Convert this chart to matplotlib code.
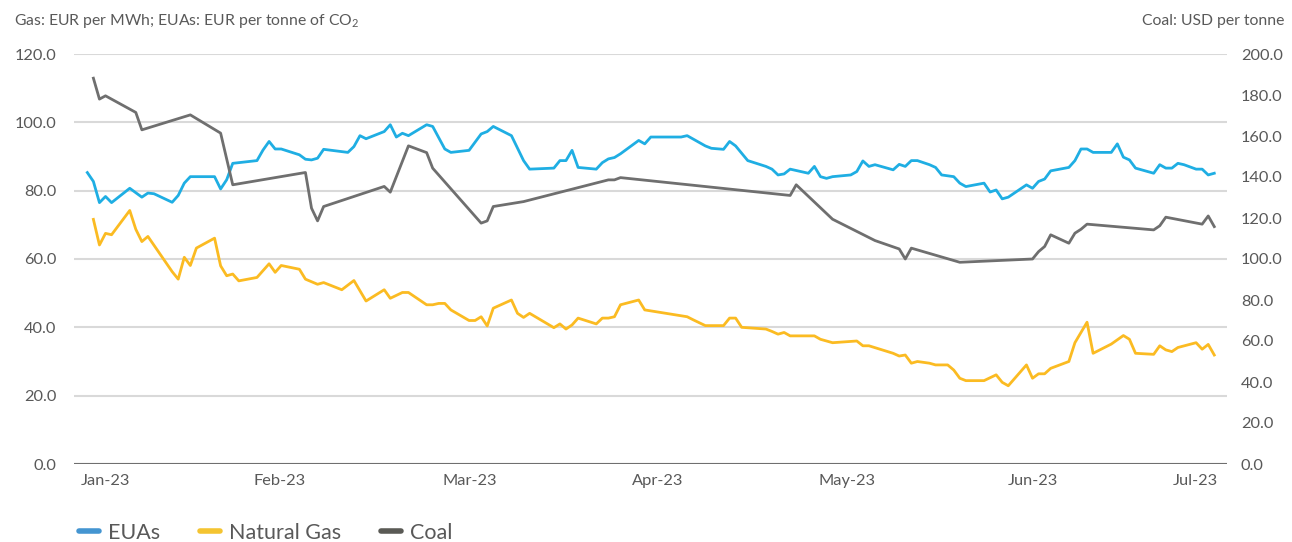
import matplotlib
matplotlib.use("Agg")
import matplotlib.pyplot as plt
from matplotlib.lines import Line2D
import pandas as pd

# ---------------- data (calendar-day offset from 2 Jan 2023, value) ----------------
START = "2023-01-02"

eua_day = [0, 1, 2, 3, 4, 7, 9, 10, 11, 14, 15, 16, 17, 21, 22, 23, 24, 28, 29, 30, 31, 32,
           35, 36, 37, 38, 39, 43, 44, 45, 46, 49, 50, 51, 52, 53, 56, 57, 59, 60, 63, 65, 66,
           67, 70, 72, 73, 77, 78, 79, 80, 81, 84, 85, 86, 87, 88, 91, 92, 93, 98, 99, 102,
           103, 105, 106, 107, 109, 112, 113, 114, 115, 116, 119, 120, 121, 122, 123, 126,
           127, 128, 129, 130, 133, 134, 135, 136, 137, 139, 140, 141, 143, 144, 145, 148,
           149, 150, 151, 152, 155, 156, 157, 158, 159, 162, 163, 164, 165, 166, 169, 170,
           171, 172, 173, 176, 177, 178, 179, 180, 181, 183, 184, 185, 186]
eua_val = [85.3, 82.7, 76.5, 78.3, 76.5, 80.7, 78.1, 79.3, 79.1, 76.6, 78.6, 82.2, 84.1, 84.1,
           80.5, 83.2, 88.0, 88.8, 91.9, 94.4, 92.2, 92.2, 90.5, 89.2, 89.0, 89.5, 92.1, 91.2,
           92.9, 96.1, 95.2, 97.3, 99.3, 95.7, 96.8, 96.1, 99.3, 98.8, 92.2, 91.2, 91.8, 96.6,
           97.3, 98.8, 96.1, 88.8, 86.3, 86.6, 88.8, 88.8, 91.8, 86.8, 86.3, 88.2, 89.3, 89.7,
           90.8, 94.7, 93.7, 95.7, 95.7, 96.1, 93.1, 92.4, 92.1, 94.4, 93.1, 88.8, 87.1, 86.3,
           84.6, 84.9, 86.3, 85.1, 87.1, 84.1, 83.6, 84.1, 84.6, 85.6, 88.7, 87.1, 87.6, 86.1,
           87.7, 87.1, 88.8, 88.8, 87.6, 86.8, 84.6, 84.1, 82.2, 81.2, 82.2, 79.6, 80.2, 77.6,
           78.1, 81.7, 80.7, 82.7, 83.4, 85.8, 86.8, 88.8, 92.2, 92.2, 91.2, 91.2, 93.7, 89.8,
           89.0, 86.6, 85.1, 87.6, 86.6, 86.6, 88.0, 87.6, 86.3, 86.3, 84.6, 85.1]

gas_day = [1, 2, 3, 4, 7, 8, 9, 10, 14, 15, 16, 17, 18, 21, 22, 23, 24, 25, 28, 30, 31, 32,
           35, 36, 38, 39, 42, 44, 46, 49, 50, 52, 53, 56, 57, 58, 59, 60, 63, 64, 65, 66, 67,
           70, 71, 72, 73, 77, 78, 79, 80, 81, 84, 85, 86, 87, 88, 91, 92, 99, 100, 102, 105,
           106, 107, 108, 112, 113, 114, 115, 116, 120, 121, 123, 127, 128, 129, 133, 134,
           135, 136, 137, 139, 140, 142, 143, 144, 145, 148, 150, 151, 152, 155, 156, 157,
           158, 159, 162, 163, 165, 166, 169, 171, 172, 173, 176, 177, 178, 179, 180, 183,
           184, 185, 186]
gas_val = [71.6, 64.1, 67.5, 67.1, 74.2, 68.7, 65.1, 66.6, 56.3, 54.1, 60.5, 58.1, 63.2, 66.1,
           58.0, 55.1, 55.6, 53.6, 54.6, 58.6, 56.1, 58.1, 57.0, 54.1, 52.6, 53.1, 51.0, 53.7,
           47.7, 51.0, 48.5, 50.2, 50.2, 46.6, 46.6, 47.0, 47.0, 45.1, 42.0, 42.0, 43.1, 40.4,
           45.6, 48.0, 44.1, 42.9, 44.1, 39.9, 41.0, 39.5, 40.7, 42.7, 41.0, 42.7, 42.7, 43.1,
           46.6, 48.0, 45.1, 43.1, 42.2, 40.5, 40.5, 42.7, 42.7, 40.0, 39.5, 38.8, 38.0, 38.5,
           37.5, 37.5, 36.5, 35.5, 36.0, 34.6, 34.6, 32.4, 31.6, 31.9, 29.5, 30.0, 29.5, 29.0,
           29.0, 27.5, 25.1, 24.4, 24.4, 26.1, 23.9, 22.9, 29.0, 25.1, 26.4, 26.4, 28.0, 30.0,
           35.5, 41.5, 32.4, 35.1, 37.6, 36.5, 32.4, 32.1, 34.6, 33.4, 32.9, 34.1, 35.5, 33.6,
           35.0, 31.9]

coal_day = [1, 2, 3, 8, 9, 17, 22, 24, 36, 37, 38, 39, 49, 50, 53, 56, 57, 65, 66, 67, 72,
            86, 87, 88, 116, 117, 123, 130, 134, 135, 136, 144, 156, 157, 158, 159, 162, 163,
            164, 165, 176, 177, 178, 184, 185, 186]
coal_val = [188.2, 178.0, 179.6, 171.5, 163.0, 170.3, 161.4, 136.2, 142.2, 124.8, 118.6, 125.6,
            135.4, 132.6, 155.2, 151.9, 144.3, 117.5, 118.6, 125.6, 128.0, 138.6, 138.6, 139.7,
            131.0, 136.2, 119.4, 109.0, 104.9, 100.0, 105.3, 98.4, 100.0, 103.6, 106.1, 111.8,
            107.7, 112.6, 114.5, 117.0, 114.2, 116.2, 120.4, 117.0, 121.0, 115.8]

series_names = ["EUAs", "Natural Gas", "Coal"]
month_labels = ["Jan-23", "Feb-23", "Mar-23", "Apr-23", "May-23", "Jun-23", "Jul-23"]
left_ticks = [0, 20, 40, 60, 80, 100, 120]
right_ticks = [0, 20, 40, 60, 80, 100, 120, 140, 160, 180, 200]

# ---------------- style ----------------
FONT = ["Lato", "DejaVu Sans"]
plt.rcParams["font.family"] = FONT
plt.rcParams["mathtext.fontset"] = "custom"
plt.rcParams["mathtext.rm"] = "Lato"
TXT = "#595959"
C_EUA = "#1FAEE3"
C_GAS = "#FBBB22"
C_COAL = "#6F6F6F"
GRID = "#D9D9D9"

W, H = 1292, 542
fig = plt.figure(figsize=(W / 100, H / 100), dpi=100)
ax = fig.add_axes([74 / W, (H - 464) / H, (1227 - 74) / W, (464 - 54) / H])
ax2 = ax.twinx()

start = pd.Timestamp(START)
to_dates = lambda d: start + pd.to_timedelta(d, unit="D")

ax.plot(to_dates(eua_day), eua_val, color=C_EUA, lw=2.0, solid_joinstyle="round", zorder=3)
ax.plot(to_dates(gas_day), gas_val, color=C_GAS, lw=2.0, solid_joinstyle="round", zorder=3)
ax2.plot(to_dates(coal_day), coal_val, color=C_COAL, lw=2.0, solid_joinstyle="round", zorder=3)

ax.set_ylim(0, 120)
ax2.set_ylim(0, 200)
ax.set_xlim(to_dates(-2.2), to_dates(188.1))

ax.set_yticks(left_ticks)
ax.set_yticklabels([f"{v:.1f}" for v in left_ticks])
ax2.set_yticks(right_ticks)
ax2.set_yticklabels([f"{v:.1f}" for v in right_ticks])

tick_offsets = [3.0, 31.8, 63.1, 94.2, 125.4, 156.1, 182.8]
ax.set_xticks(to_dates(tick_offsets))
ax.set_xticklabels(month_labels)

ax.grid(axis="y", color=GRID, lw=1.5)
ax.set_axisbelow(True)
for a in (ax, ax2):
    for s in ("top", "left", "right", "bottom"):
        a.spines[s].set_visible(False)
ax.axhline(0, color="#6F6F6F", lw=1.5, zorder=4)

ax.tick_params(axis="y", length=0, pad=12.5, labelsize=11.8, labelcolor=TXT)
ax2.tick_params(axis="y", length=0, pad=10, labelsize=11.8, labelcolor=TXT)
ax.tick_params(axis="x", length=0, pad=7, labelsize=11.8, labelcolor=TXT)

fig.text(14 / W, 1 - 21 / H, r"Gas: EUR per MWh; EUAs: EUR per tonne of CO$_2$",
         ha="left", va="center", fontsize=11.3, color=TXT)
fig.text(1284 / W, 1 - 21 / H, "Coal: USD per tonne", ha="right", va="center",
         fontsize=11.3, color=TXT)

handles = [Line2D([], [], color=c, lw=4, solid_capstyle="round")
           for c in ("#4495D1", "#F4C431", "#5A5A55")]
fig.legend(handles, series_names, loc="center left", bbox_to_anchor=(70 / W, 1 - 533 / H),
           ncol=3, frameon=False, fontsize=15.5, labelcolor=TXT, handlelength=0.95,
           handletextpad=0.4, columnspacing=1.85, borderaxespad=0)

fig.savefig("out.png", dpi=100)
